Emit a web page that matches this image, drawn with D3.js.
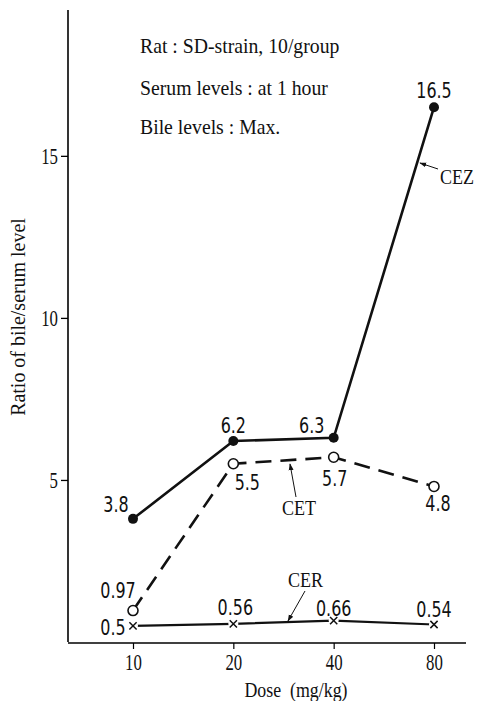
<!DOCTYPE html>
<html>
<head>
<meta charset="utf-8">
<script src="https://cdn.jsdelivr.net/npm/d3@7"></script>
<style>
  body { margin: 0; background: #fff; }
  svg text { fill: #111; }
</style>
</head>
<body>
<div id="chart"></div>
<script>
// values
const doses = [10, 20, 40, 80];
const cez = [3.8, 6.2, 6.3, 16.5];
const cet = [0.97, 5.5, 5.7, 4.8];
const cer = [0.5, 0.56, 0.66, 0.54];
const cezLabels = ["3.8", "6.2", "6.3", "16.5"];
const cetLabels = ["0.97", "5.5", "5.7", "4.8"];
const cerLabels = ["0.5", "0.56", "0.66", "0.54"];
const yTicks = [5, 10, 15];
const notes = ["Rat : SD-strain, 10/group", "Serum levels : at 1 hour", "Bile levels : Max."];

const W = 478, H = 701;
const serif = "'Liberation Serif', 'Times New Roman', serif";
const sans = "'DejaVu Sans', sans-serif";

const svg = d3.select("#chart").append("svg")
  .attr("width", W).attr("height", H);

const x = d3.scaleLog().base(2).domain([10, 80]).range([133, 434]);
const y = d3.scaleLinear().domain([0, 19.5]).range([642, 10]);

// helper for the tall narrow type of the scan
function txt(g, px, py, s, size, sx, anchor, family) {
  return g.append("text")
    .attr("transform", `translate(${px},${py}) scale(${sx},1)`)
    .attr("text-anchor", anchor || "start")
    .style("font-family", family || serif)
    .style("font-size", size + "px")
    .text(s);
}

// arrow head
svg.append("defs").append("marker")
  .attr("id", "arr")
  .attr("viewBox", "0 0 10 10")
  .attr("refX", 9).attr("refY", 5)
  .attr("markerWidth", 7).attr("markerHeight", 7)
  .attr("orient", "auto")
  .append("path").attr("d", "M0,1.5L10,5L0,8.5z").attr("fill", "#111");

// axes
const yAxis = svg.append("g")
  .attr("transform", "translate(68,0)")
  .call(d3.axisLeft(y).tickValues(yTicks).tickSize(7).tickPadding(1).tickFormat(d3.format("d")));
yAxis.select(".domain").attr("d", `M0,${y(19.5)}V${y(0)}`).attr("stroke-width", 1.6);
yAxis.selectAll(".tick line").attr("stroke-width", 1.3);
yAxis.selectAll(".tick text").remove();
yAxis.selectAll(".tick").each(function(d) {
  txt(d3.select(this), -10, 8, d, 24, 0.7, "end");
});

const xAxis = svg.append("g")
  .attr("transform", "translate(0,643)")
  .call(d3.axisBottom(x).tickValues(doses).tickSize(6).tickFormat(d3.format("d")));
xAxis.select(".domain").attr("d", "M68,0H466").attr("stroke-width", 1.6);
xAxis.selectAll(".tick line").attr("stroke-width", 1.2);
xAxis.selectAll(".tick text").remove();
xAxis.selectAll(".tick").each(function(d) {
  txt(d3.select(this), 0, 27, d, 24, 0.7, "middle");
});

// axis titles
txt(svg, 296, 697, "Dose\u2002(mg/kg)", 21, 0.85, "middle");
svg.append("text")
  .attr("transform", "translate(25,317) rotate(-90) scale(0.95,1)")
  .attr("text-anchor", "middle")
  .style("font-family", serif).style("font-size", "21px")
  .text("Ratio of bile/serum level");

// notes
const noteY = [53, 95, 134];
notes.forEach((n, i) => txt(svg, 140, noteY[i], n, 21, 0.94, "start"));

// series lines
const line = (vals) => d3.line().x((d, i) => x(doses[i])).y(d => y(d))(vals);

svg.append("path").attr("d", line(cer))
  .attr("fill", "none").attr("stroke", "#111").attr("stroke-width", 2.2);
svg.append("path").attr("d", line(cet))
  .attr("fill", "none").attr("stroke", "#111").attr("stroke-width", 2.6)
  .attr("stroke-dasharray", "16,9");
svg.append("path").attr("d", line(cez))
  .attr("fill", "none").attr("stroke", "#111").attr("stroke-width", 2.6);

// markers
svg.selectAll(".cez").data(cez).join("circle")
  .attr("cx", (d, i) => x(doses[i])).attr("cy", d => y(d))
  .attr("r", 5).attr("fill", "#111");
svg.selectAll(".cet").data(cet).join("circle")
  .attr("cx", (d, i) => x(doses[i])).attr("cy", d => y(d))
  .attr("r", 5).attr("fill", "#fff").attr("stroke", "#111").attr("stroke-width", 1.6);
svg.selectAll(".cerbg").data(cer).join("circle")
  .attr("cx", (d, i) => x(doses[i])).attr("cy", d => y(d))
  .attr("r", 5).attr("fill", "#fff");
svg.selectAll(".cer").data(cer).join("path")
  .attr("transform", (d, i) => `translate(${x(doses[i])},${y(d)})`)
  .attr("d", d3.symbol(d3.symbolX, 36)())
  .attr("fill", "none").attr("stroke", "#111").attr("stroke-width", 1.5);

// value labels (offsets from each point)
const cezOff = [[-17, -7], [0, -8], [-22, -5], [0, -9]];
const cetOff = [[-15, -13], [14, 26], [1, 29], [4, 25]];
const cerOff = [[-20, 9], [2, -9], [0, -5], [0, -7]];
function labels(vals, labs, off) {
  vals.forEach((v, i) => {
    txt(svg, x(doses[i]) + off[i][0], y(v) + off[i][1], labs[i], 21, 0.76, "middle", sans);
  });
}
labels(cez, cezLabels, cezOff);
labels(cet, cetLabels, cetOff);
labels(cer, cerLabels, cerOff);

// series names with leader arrows
function tag(name, tx, ty, from, to) {
  txt(svg, tx, ty, name, 22, 0.82, "start");
  svg.append("line")
    .attr("x1", from[0]).attr("y1", from[1]).attr("x2", to[0]).attr("y2", to[1])
    .attr("stroke", "#111").attr("stroke-width", 1)
    .attr("marker-end", "url(#arr)");
}
tag("CEZ", 440, 184, [438, 169], [420, 163]);
tag("CET", 282, 515, [296, 497], [290, 464]);
tag("CER", 288, 587, [305, 591], [288, 621]);
</script>
</body>
</html>
